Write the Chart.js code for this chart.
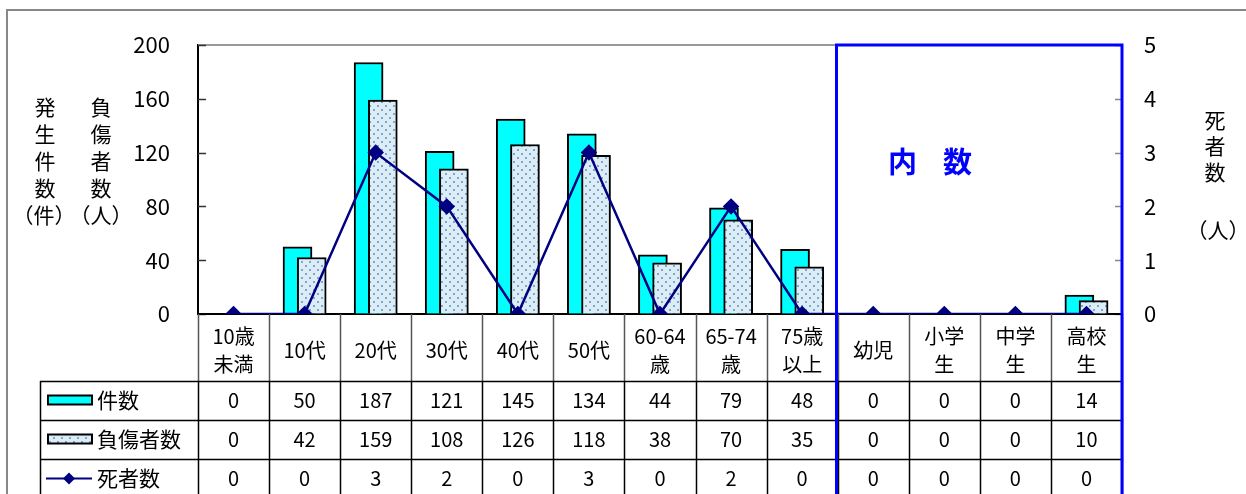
<!DOCTYPE html>
<html>
<head>
<meta charset="utf-8">
<script src="https://cdn.jsdelivr.net/npm/chart.js@4.4.0/dist/chart.umd.min.js"></script>
<style>
  html, body { margin: 0; padding: 0; background: #fff; }
</style>
</head>
<body>
<canvas id="chart" width="1246" height="494"></canvas>
<script>
    // data
    const categories = [['10歳', '未満'], ['10代'], ['20代'], ['30代'], ['40代'], ['50代'], ['60-64', '歳'], ['65-74', '歳'], ['75歳', '以上'], ['幼児'], ['小学', '生'], ['中学', '生'], ['高校', '生']];
    const incidents = [0, 50, 187, 121, 145, 134, 44, 79, 48, 0, 0, 0, 14];
    const injured = [0, 42, 159, 108, 126, 118, 38, 70, 35, 0, 0, 0, 10];
    const deaths = [0, 0, 3, 2, 0, 3, 0, 2, 0, 0, 0, 0, 0];
    const seriesNames = ['件数', '負傷者数', '死者数'];
    const leftTicks = [0, 40, 80, 120, 160, 200];
    const rightTicks = [0, 1, 2, 3, 4, 5];
    const subsetStart = 9; // 内数 columns start here

    const FONT = '"Noto Sans CJK JP", "Liberation Sans", sans-serif';
    const CYAN = '#00ffff';
    const NAVY = '#000080';

    function dotPattern() {
        const c = document.createElement('canvas');
        c.width = 8; c.height = 8;
        const g = c.getContext('2d');
        g.fillStyle = '#ddedf6';
        g.fillRect(0, 0, 8, 8);
        g.fillStyle = '#7aa6d8';
        g.fillRect(1, 1, 2, 2);
        g.fillRect(5, 5, 2, 2);
        return g.createPattern(c, 'repeat');
    }
    const dots = dotPattern();

    function diamond(g, x, y, r) {
        g.beginPath();
        g.moveTo(x, y - r); g.lineTo(x + r, y); g.lineTo(x, y + r); g.lineTo(x - r, y);
        g.closePath();
        g.fill();
    }

    const decorations = {
        id: 'decorations',
        beforeDatasetsDraw(chart) {
            const g = chart.ctx;
            const { left, right, top, bottom } = chart.chartArea;
            g.save();
            // outer frame
            g.strokeStyle = '#888';
            g.lineWidth = 2;
            g.strokeRect(7, 10, 1260, 500);
            // plot top edge
            g.strokeStyle = '#999';
            g.beginPath(); g.moveTo(left, top); g.lineTo(right, top); g.stroke();
            // inside tick marks
            const y = chart.scales.y, y1 = chart.scales.y1;
            g.strokeStyle = '#333';
            g.lineWidth = 1.5;
            leftTicks.forEach(v => {
                const py = Math.round(y.getPixelForValue(v)) + 0.5;
                g.beginPath(); g.moveTo(left, py); g.lineTo(left + 8, py); g.stroke();
            });
            g.strokeStyle = '#888';
            rightTicks.forEach(v => {
                const py = Math.round(y1.getPixelForValue(v)) + 0.5;
                g.beginPath(); g.moveTo(right - 7, py); g.lineTo(right, py); g.stroke();
            });
            // baseline
            g.strokeStyle = '#000';
            g.lineWidth = 2;
            g.beginPath(); g.moveTo(left, bottom); g.lineTo(right, bottom); g.stroke();
            g.restore();
        },
        afterDraw(chart) {
            const g = chart.ctx;
            const x = chart.scales.x;
            const { left, right, top, bottom } = chart.chartArea;
            const colX = i => x.getPixelForValue(i - 0.5);
            const headBottom = bottom + 67;
            const rowH = 39;
            const tableLeft = 40;
            g.save();

            // header cells
            g.strokeStyle = '#555';
            g.lineWidth = 1.5;
            for (let i = 0; i <= categories.length; i++) {
                const px = Math.round(colX(i)) + 0.5;
                g.beginPath(); g.moveTo(px, bottom); g.lineTo(px, headBottom); g.stroke();
            }
            g.fillStyle = '#000';
            g.font = '20px ' + FONT;
            g.textAlign = 'center';
            g.textBaseline = 'middle';
            categories.forEach((lines, i) => {
                const cx = x.getPixelForValue(i);
                if (lines.length === 1) {
                    g.fillText(lines[0], cx, bottom + 36);
                } else {
                    g.fillText(lines[0], cx, bottom + 22);
                    g.fillText(lines[1], cx, bottom + 50);
                }
            });

            // body grid
            g.strokeStyle = '#000';
            g.lineWidth = 1.5;
            for (let r = 0; r <= 3; r++) {
                const py = Math.round(headBottom + r * rowH) + 0.5;
                g.beginPath(); g.moveTo(tableLeft, py); g.lineTo(right, py); g.stroke();
            }
            const vx = [tableLeft];
            for (let i = 0; i <= categories.length; i++) vx.push(colX(i));
            vx.forEach(v => {
                const px = Math.round(v) + 0.5;
                g.beginPath(); g.moveTo(px, headBottom); g.lineTo(px, headBottom + 3 * rowH + 5); g.stroke();
            });

            // body values
            [incidents, injured, deaths].forEach((arr, r) => {
                const cy = headBottom + r * rowH + rowH / 2;
                arr.forEach((v, i) => g.fillText(String(v), x.getPixelForValue(i), cy));
            });

            // legend keys + names
            g.textAlign = 'left';
            g.font = '21px ' + FONT;
            seriesNames.forEach((name, r) => {
                const cy = headBottom + r * rowH + rowH / 2;
                g.fillStyle = '#000';
                g.fillText(name, 97, cy);
            });
            let ky = headBottom + rowH / 2;
            g.fillStyle = CYAN;
            g.fillRect(48, ky - 5, 44, 9);
            g.strokeStyle = '#000'; g.lineWidth = 2;
            g.strokeRect(48, ky - 5, 44, 9);
            ky += rowH;
            g.fillStyle = dots;
            g.fillRect(48, ky - 5, 44, 9);
            g.strokeRect(48, ky - 5, 44, 9);
            ky += rowH;
            g.strokeStyle = NAVY; g.lineWidth = 2;
            g.beginPath(); g.moveTo(46, ky); g.lineTo(92, ky); g.stroke();
            g.fillStyle = NAVY;
            diamond(g, 69, ky, 6);

            // 内数 box
            const bx = Math.round(colX(subsetStart)) - 1.5;
            g.strokeStyle = '#0000ff';
            g.lineWidth = 3;
            g.beginPath();
            g.moveTo(bx, 520); g.lineTo(bx, top); g.lineTo(right, top); g.lineTo(right, 520);
            g.stroke();
            g.fillStyle = '#0000ff';
            g.font = 'bold 29px ' + FONT;
            g.textAlign = 'center';
            g.fillText('内', bx + 66, top + 117);
            g.fillText('数', bx + 121, top + 117);

            // axis titles (vertical)
            g.fillStyle = '#000';
            g.font = '21px ' + FONT;
            const colA = ['発', '生', '件', '数'];
            const colB = ['負', '傷', '者', '数'];
            colA.forEach((c, k) => g.fillText(c, 45, 107 + k * 27));
            colB.forEach((c, k) => g.fillText(c, 101, 107 + k * 27));
            g.fillText('（件）', 44, 215);
            g.fillText('（人）', 101, 215);
            ['死', '者', '数'].forEach((c, k) => g.fillText(c, 1215, 120 + k * 26));
            g.fillText('（人）', 1218, 230);
            g.restore();
        }
    };

    new Chart(document.getElementById('chart'), {
        data: {
            datasets: [
                {
                    type: 'bar', label: seriesNames[0],
                    data: incidents.map((v, i) => ({ x: i - 0.1, y: v })),
                    backgroundColor: CYAN, borderColor: '#000', borderWidth: 2,
                    borderSkipped: 'bottom', barThickness: 29, grouped: false,
                    yAxisID: 'y', order: 2
                },
                {
                    type: 'bar', label: seriesNames[1],
                    data: injured.map((v, i) => ({ x: i + 0.1, y: v })),
                    backgroundColor: dots, borderColor: '#000', borderWidth: 2,
                    borderSkipped: 'bottom', barThickness: 29, grouped: false,
                    yAxisID: 'y', order: 1
                },
                {
                    type: 'line', label: seriesNames[2],
                    data: deaths.map((v, i) => ({ x: i, y: v })),
                    borderColor: NAVY, borderWidth: 2.5, tension: 0,
                    pointStyle: 'rectRot', pointRadius: 6.5,
                    pointBackgroundColor: NAVY, pointBorderColor: NAVY,
                    yAxisID: 'y1', order: 0
                }
            ]
        },
        options: {
            responsive: false,
            animation: false,
            layout: { padding: { top: 45, bottom: 180, left: 0, right: 0 } },
            plugins: { legend: { display: false }, tooltip: { enabled: false } },
            scales: {
                x: {
                    type: 'linear', min: -0.5, max: 12.5, offset: false, display: false
                },
                y: {
                    position: 'left', min: 0, max: 200,
                    afterFit: s => { s.width = 198; },
                    ticks: { stepSize: 40, color: '#000', padding: 28, font: { size: 22, family: FONT } },
                    grid: { drawOnChartArea: false, drawTicks: false },
                    border: { color: '#000', width: 2 }
                },
                y1: {
                    position: 'right', min: 0, max: 5,
                    afterFit: s => { s.width = 124; },
                    ticks: { stepSize: 1, color: '#000', padding: 22, font: { size: 22, family: FONT } },
                    grid: { drawOnChartArea: false, drawTicks: false },
                    border: { color: '#888', width: 2 }
                }
            }
        },
        plugins: [decorations]
    });
</script>
</body>
</html>
